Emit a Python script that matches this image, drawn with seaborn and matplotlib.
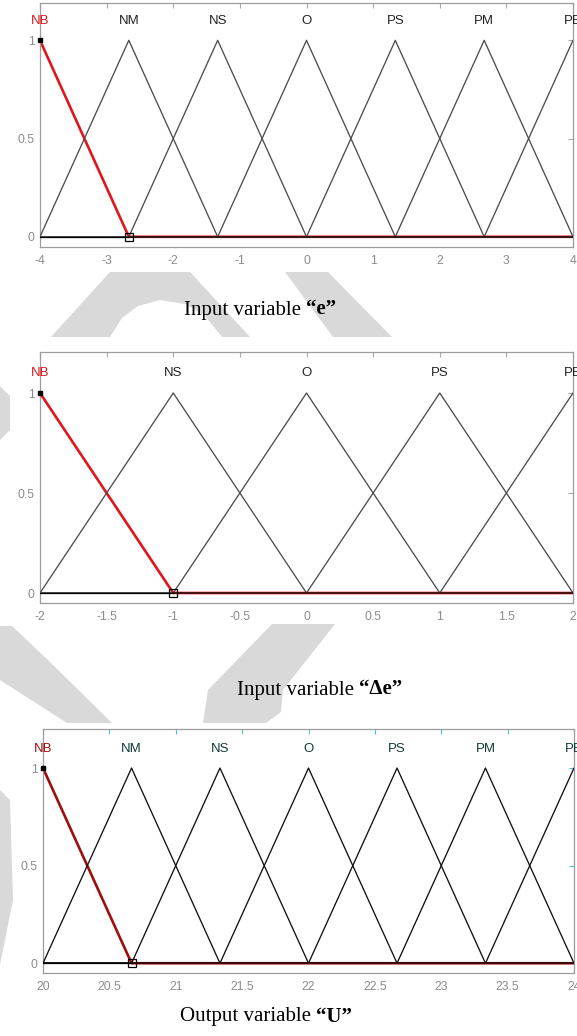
import numpy as np
import pandas as pd
import matplotlib
matplotlib.use("Agg")
import matplotlib.pyplot as plt
from matplotlib.patches import Polygon
import seaborn as sns

# ---- membership functions (triangular: [a, b, c]) ----
e_names = ["NB", "NM", "NS", "O", "PS", "PM", "PB"]
e_params = [[-5.333, -4.0, -2.667], [-4.0, -2.667, -1.333], [-2.667, -1.333, 0.0],
            [-1.333, 0.0, 1.333], [0.0, 1.333, 2.667], [1.333, 2.667, 4.0],
            [2.667, 4.0, 5.333]]
e_range = [-4, 4]
e_ticks = [-4, -3, -2, -1, 0, 1, 2, 3, 4]

de_names = ["NB", "NS", "O", "PS", "PB"]
de_params = [[-3.0, -2.0, -1.0], [-2.0, -1.0, 0.0], [-1.0, 0.0, 1.0],
             [0.0, 1.0, 2.0], [1.0, 2.0, 3.0]]
de_range = [-2, 2]
de_ticks = [-2, -1.5, -1, -0.5, 0, 0.5, 1, 1.5, 2]

u_names = ["NB", "NM", "NS", "O", "PS", "PM", "PB"]
u_params = [[19.333, 20.0, 20.667], [20.0, 20.667, 21.333], [20.667, 21.333, 22.0],
            [21.333, 22.0, 22.667], [22.0, 22.667, 23.333], [22.667, 23.333, 24.0],
            [23.333, 24.0, 24.667]]
u_range = [20, 24]
u_ticks = [20, 20.5, 21, 21.5, 22, 22.5, 23, 23.5, 24]

y_ticks = [0, 0.5, 1]

W, H = 577, 1036
sns.set_style("white")
plt.rcParams["font.family"] = ["Liberation Sans", "DejaVu Sans"]

fig = plt.figure(figsize=(W / 100, H / 100), dpi=100)
fig.patch.set_facecolor("white")

# light page watermark showing between the figure panels (pixel outlines)
wm_shapes = [
    [(51, 337), (110, 272), (190, 272), (250, 337), (222, 337), (205, 316),
     (185, 304), (160, 300), (138, 306), (122, 318), (110, 337)],
    [(285, 272), (328, 272), (392, 337), (333, 337)],
    [(0, 626), (0, 680), (67, 723), (112, 723), (48, 660), (12, 626)],
    [(272, 624), (335, 624), (283, 690), (281, 712), (266, 723), (203, 723), (208, 690)],
    [(0, 386), (10, 396), (10, 430), (0, 440)],
    [(0, 790), (10, 800), (13, 900), (0, 965)],
]
for pts in wm_shapes:
    fig.patches.append(Polygon([(x / W, 1 - y / H) for x, y in pts], closed=True,
                               transform=fig.transFigure, facecolor="#d9d9d9",
                               edgecolor="none", zorder=0))


def trimf(x, a, b, c):
    x = np.asarray(x, dtype=float)
    left = (x - a) / (b - a)
    right = (c - x) / (c - b)
    return np.clip(np.minimum(left, right), 0, 1)


def mf_table(names, params, rng):
    lo, hi = rng
    rows = []
    for name, (a, b, c) in zip(names, params):
        xs = sorted(set([lo, hi] + [v for v in (a, b, c) if lo <= v <= hi]))
        for x in xs:
            rows.append({"mf": name, "x": x, "mu": float(trimf(x, a, b, c))})
    return pd.DataFrame(rows)


def add_axes_px(left, right, top, bottom):
    return fig.add_axes([left / W, 1 - bottom / H, (right - left) / W, (bottom - top) / H])


def draw_panel(ax, names, params, rng, ticks, line_col, sel_col, base_col, lab_col,
               tick_col, ylim):
    df = mf_table(names, params, rng)
    sel = df[df["mf"] == names[0]]
    rest = df[df["mf"] != names[0]]
    sns.lineplot(data=sel, x="x", y="mu", units="mf", estimator=None, sort=False,
                 color=sel_col, lw=1.9, ax=ax, zorder=2)
    sns.lineplot(data=rest, x="x", y="mu", units="mf", estimator=None, sort=False,
                 color=line_col, lw=0.95, ax=ax, zorder=3)
    a, b, c = params[0]
    foot = min(c, rng[1])
    # heavy base where the selected set is zero, thin black where it is positive
    ax.plot([foot, rng[1]], [0, 0], color=base_col, lw=1.4, zorder=4)
    ax.plot([rng[0], foot], [0, 0], color="black", lw=0.9, zorder=4)
    # vertex handles of the selected set
    ax.plot([max(b, rng[0])], [float(trimf(max(b, rng[0]), a, b, c))], marker="s",
            ms=2.5, color="black", ls="none", zorder=5, clip_on=False)
    ax.plot([foot], [0], marker="s", ms=5.5, mfc="none", mec="black", mew=0.9,
            ls="none", zorder=5, clip_on=False)
    for i, (name, (pa, pb, pc)) in enumerate(zip(names, params)):
        ax.text(pb, 1.1, name, ha="center", va="center", fontsize=9.5,
                color=(sel_col if i == 0 else lab_col), clip_on=False)
    ax.set_xlim(rng)
    ax.set_ylim(ylim)
    ax.set_xticks(ticks)
    ax.set_xticklabels([f"{t:g}" for t in ticks])
    ax.set_yticks(y_ticks)
    ax.set_yticklabels([f"{t:g}" for t in y_ticks])
    ax.set_xlabel("")
    ax.set_ylabel("")
    ax.tick_params(direction="in", length=3.5, width=0.8, top=True, right=True,
                   color=tick_col, labelcolor="#8c8c8c", labelsize=8.8)
    ax.tick_params(axis="x", pad=6)
    ax.tick_params(axis="y", pad=4)
    for sp in ax.spines.values():
        sp.set_color("#9c9c9c")
        sp.set_linewidth(0.9)
    ax.set_facecolor("white")


def caption(x_px, y_px, plain, bold):
    t1 = fig.text(x_px / W, 1 - y_px / H, plain, ha="left", va="center",
                  fontfamily="Liberation Serif", fontsize=15, color="black")
    fig.canvas.draw()
    ext = t1.get_window_extent()
    fig.text(ext.x1 / W, ext.y0 / H, bold, ha="left", va="bottom",
             fontfamily="Liberation Serif", fontsize=15, fontweight="bold", color="black")


ax1 = add_axes_px(40, 573, 3, 247)
draw_panel(ax1, e_names, e_params, e_range, e_ticks, "#4d4d4d", "#e0161b", "#3a1414",
           "#222222", "#a8a8a8", (-0.052, 1.19))

ax2 = add_axes_px(40, 573, 352, 603)
draw_panel(ax2, de_names, de_params, de_range, de_ticks, "#4d4d4d", "#e0161b", "#4a1010",
           "#222222", "#a8a8a8", (-0.05, 1.205))

ax3 = add_axes_px(43, 574, 729, 973)
draw_panel(ax3, u_names, u_params, u_range, u_ticks, "#111111", "#a00d0d", "#3a0808",
           "#0f3a3a", "#4fc3c9", (-0.05, 1.2))

caption(184, 310, "Input variable ", "\u201ce\u201d")
caption(237, 690, "Input variable ", "\u201c\u0394e\u201d")
caption(180, 1017, "Output variable ", "\u201cU\u201d")

fig.savefig("out.png", dpi=100)
